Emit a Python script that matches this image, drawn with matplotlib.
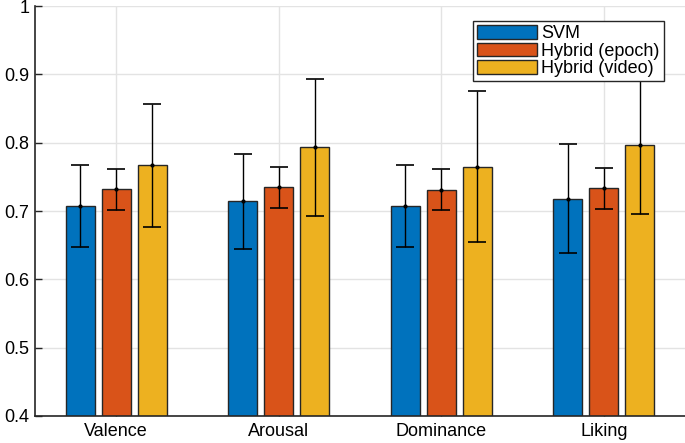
import numpy as np
import matplotlib
matplotlib.use("Agg")
import matplotlib.pyplot as plt

categories = ["Valence", "Arousal", "Dominance", "Liking"]
series_names = ["SVM", "Hybrid (epoch)", "Hybrid (video)"]
svm_mean = [0.708, 0.714, 0.707, 0.718]
svm_err = [0.060, 0.070, 0.060, 0.080]
epoch_mean = [0.732, 0.735, 0.731, 0.733]
epoch_err = [0.030, 0.030, 0.030, 0.030]
video_mean = [0.767, 0.793, 0.765, 0.796]
video_err = [0.090, 0.100, 0.110, 0.100]

colors = ["#0072BD", "#D95319", "#EDB120"]
means = [svm_mean, epoch_mean, video_mean]
errs = [svm_err, epoch_err, video_err]

plt.rcParams['font.family'] = ['Liberation Sans', 'DejaVu Sans']

fig = plt.figure(figsize=(6.85, 4.43), dpi=100)
ax = fig.add_axes([35/685, 27/443, 650/685, 410/443])

x = np.arange(1, len(categories) + 1)
offset = 0.2222
width = 0.18
for i, (m, e, c, name) in enumerate(zip(means, errs, colors, series_names)):
    xi = x + (i - 1) * offset
    ax.bar(xi, m, width=width, color=c, edgecolor="#262626", linewidth=1.0,
           label=name, zorder=2)
    ax.errorbar(xi, m, yerr=e, fmt='.', color='black', ecolor='black',
                elinewidth=1.0, capsize=6.5, capthick=1.2, markersize=4, zorder=3)

ax.set_xlim(0.5, 4.5)
ax.set_ylim(0.4, 1.0)
ax.set_xticks(x)
ax.set_xticklabels(categories)
ax.set_yticks(np.arange(0.4, 1.01, 0.1))
ax.set_yticklabels(["0.4", "0.5", "0.6", "0.7", "0.8", "0.9", "1"])
ax.tick_params(axis='both', direction='in', length=5, width=1.0,
               labelsize=13, colors='#262626', labelcolor='black')
ax.tick_params(axis='x', pad=5)
ax.tick_params(axis='y', pad=4)
ax.grid(True, color='#E3E3E3', linewidth=1.0, zorder=0)
ax.set_axisbelow(True)
for s in ["top", "right"]:
    ax.spines[s].set_visible(False)
for s in ["left", "bottom"]:
    ax.spines[s].set_linewidth(1.2)
    ax.spines[s].set_color('#262626')

leg = ax.legend(loc='upper right', bbox_to_anchor=(0.967, 0.963), fontsize=13,
                frameon=True, fancybox=False, edgecolor='#262626', framealpha=1,
                handlelength=3.3, handleheight=0.8, handletextpad=0.25,
                labelspacing=0.02, borderpad=0.22, borderaxespad=0.0)
leg.get_frame().set_linewidth(1.0)
leg.set_zorder(5)

fig.savefig("out.png", dpi=100)
